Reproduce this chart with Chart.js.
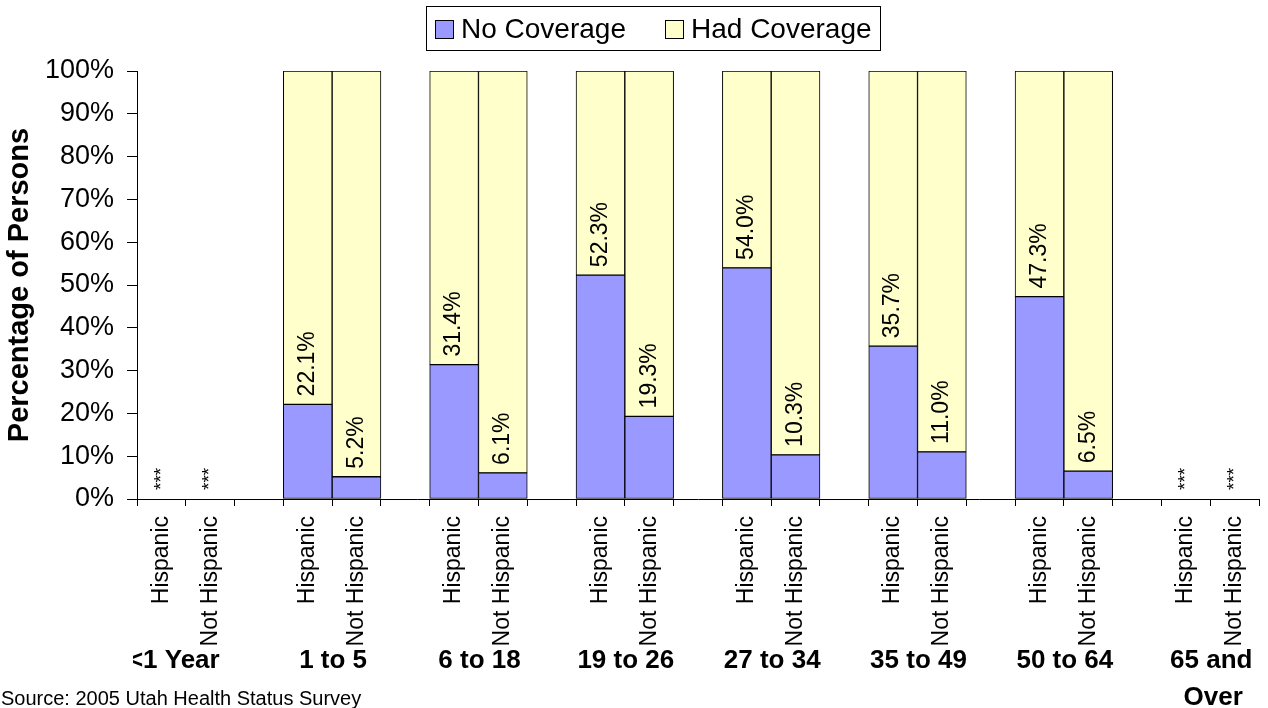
<!DOCTYPE html>
<html>
<head>
<meta charset="utf-8">
<script src="https://cdn.jsdelivr.net/npm/chart.js@4"></script>
<style>
  html, body { margin: 0; padding: 0; background: #fff; }
  #wrap { width: 1268px; height: 708px; position: relative; }
</style>
</head>
<body>
<div id="wrap"><canvas id="c" width="1268" height="708"></canvas></div>
<script>
// ---- data ----
const ageGroups = ['<1 Year', '1 to 5', '6 to 18', '19 to 26', '27 to 34', '35 to 49', '50 to 64', ['65 and', 'Over']];
const ethnicities = ['Hispanic', 'Not Hispanic'];
const noCoverageHispanic    = [null, 22.1, 31.4, 52.3, 54.0, 35.7, 47.3, null];
const noCoverageNotHispanic = [null,  5.2,  6.1, 19.3, 10.3, 11.0,  6.5, null];
const hadCoverageHispanic    = [null, 77.9, 68.6, 47.7, 46.0, 64.3, 52.7, null];
const hadCoverageNotHispanic = [null, 94.8, 93.9, 80.7, 89.7, 89.0, 93.5, null];
const suppressedText = '***';
const seriesNames = ['No Coverage', 'Had Coverage'];
const yTickMax = 100, yTickStep = 10;
const sourceNote = 'Source: 2005 Utah Health Status Survey';

// ---- build slots (Hispanic, Not Hispanic, gap) ----
const slotLabels = [], slotEth = [], slotGroup = [], noCov = [], hadCov = [];
ageGroups.forEach((g, gi) => {
  ethnicities.forEach((e, ei) => {
    slotLabels.push(gi + '|' + e);
    slotEth.push(e);
    slotGroup.push(gi);
    noCov.push(ei === 0 ? noCoverageHispanic[gi] : noCoverageNotHispanic[gi]);
    hadCov.push(ei === 0 ? hadCoverageHispanic[gi] : hadCoverageNotHispanic[gi]);
  });
  if (gi < ageGroups.length - 1) {
    slotLabels.push(gi + '|gap');
    slotEth.push(null);
    slotGroup.push(gi);
    noCov.push(null);
    hadCov.push(null);
  }
});

const FONT = "'Liberation Sans', Arial, sans-serif";
const BLUE = '#9999FF', YELLOW = '#FFFFCC';

const overlay = {
  id: 'overlay',
  afterDatasetsDraw(chart) {
    const ctx = chart.ctx;
    const xs = chart.scales.x, ys = chart.scales.y;
    const meta0 = chart.getDatasetMeta(0);
    const y0 = ys.getPixelForValue(0);
    ctx.save();
    ctx.fillStyle = '#000';
    // value labels & suppressed markers
    slotLabels.forEach((s, i) => {
      if (slotEth[i] === null) return;
      const x = xs.getPixelForValue(i);
      const v = noCov[i];
      ctx.save();
      if (v === null || v === undefined) {
        ctx.translate(x, y0 - 9);
        ctx.rotate(-Math.PI / 2);
        ctx.font = '19px ' + FONT;
        ctx.textAlign = 'left';
        ctx.textBaseline = 'middle';
        ctx.fillText(suppressedText, 0, 0);
      } else {
        const el = meta0.data[i];
        ctx.translate(x, el.y - 8);
        ctx.rotate(-Math.PI / 2);
        ctx.font = '23px ' + FONT;
        ctx.textAlign = 'left';
        ctx.textBaseline = 'middle';
        ctx.fillText(v.toFixed(1) + '%', 0, 0);
      }
      ctx.restore();
    });
    // category labels (rotated)
    slotLabels.forEach((s, i) => {
      if (slotEth[i] === null) return;
      const x = xs.getPixelForValue(i);
      ctx.save();
      ctx.translate(x, ys.bottom + 17);
      ctx.rotate(-Math.PI / 2);
      ctx.font = '23px ' + FONT;
      ctx.textAlign = 'right';
      ctx.textBaseline = 'middle';
      ctx.fillText(slotEth[i], 0, 0);
      ctx.restore();
    });
    // group labels
    ctx.save();
    ctx.beginPath();
    ctx.rect(xs.left - 4, ys.bottom, chart.width, chart.height);
    ctx.clip();
    ctx.font = 'bold 26px ' + FONT;
    ctx.textAlign = 'center';
    ctx.textBaseline = 'middle';
    ageGroups.forEach((g, gi) => {
      const i0 = slotLabels.indexOf(gi + '|Hispanic');
      const i1 = slotLabels.indexOf(gi + '|Not Hispanic');
      let cx = (xs.getPixelForValue(i0) + xs.getPixelForValue(i1)) / 2;
      if (gi === 0) cx -= 13;
      const lines = Array.isArray(g) ? g : [g];
      lines.forEach((ln, li) => ctx.fillText(ln, cx + (li ? 3 : 1), ys.bottom + 162 + li * 37));
    });
    ctx.restore();
    // source
    ctx.font = '20px ' + FONT;
    ctx.textAlign = 'left';
    ctx.textBaseline = 'alphabetic';
    ctx.fillText(sourceNote, 1, 705);
    // legend
    ctx.lineWidth = 1;
    ctx.strokeStyle = '#000';
    ctx.strokeRect(426.5, 6.5, 454, 44);
    ctx.font = '28px ' + FONT;
    ctx.textBaseline = 'middle';
    const items = [[seriesNames[0], BLUE, 435, 461], [seriesNames[1], YELLOW, 665, 691]];
    items.forEach(([t, col, sx, tx]) => {
      ctx.fillStyle = col;
      ctx.fillRect(sx + 0.5, 20.5, 18, 18);
      ctx.strokeRect(sx + 0.5, 20.5, 18, 18);
      ctx.fillStyle = '#000';
      ctx.fillText(t, tx, 30);
    });
    ctx.restore();
  }
};

new Chart(document.getElementById('c'), {
  type: 'bar',
  data: {
    labels: slotLabels,
    datasets: [
      { label: seriesNames[0], data: noCov, backgroundColor: BLUE, borderColor: '#000', borderWidth: 1, borderSkipped: false },
      { label: seriesNames[1], data: hadCov, backgroundColor: YELLOW, borderColor: '#000', borderWidth: 1, borderSkipped: false }
    ]
  },
  options: {
    responsive: false,
    animation: false,
    layout: { padding: { left: 0, right: 9, top: 71, bottom: 0 } },
    plugins: { legend: { display: false }, tooltip: { enabled: false } },
    datasets: { bar: { barPercentage: 1, categoryPercentage: 1 } },
    scales: {
      x: {
        stacked: true,
        offset: true,
        ticks: { display: false },
        grid: { offset: true, drawOnChartArea: false, drawTicks: true, tickLength: 7, color: '#000' },
        border: { display: true, color: '#000', width: 1 },
        afterFit(scale) { scale.height = 209; }
      },
      y: {
        stacked: true,
        min: 0,
        max: yTickMax,
        ticks: {
          stepSize: yTickStep,
          color: '#000',
          padding: 13,
          font: { family: FONT, size: 27 },
          callback: v => v + '%'
        },
        grid: { drawOnChartArea: false, tickLength: 10, color: '#000' },
        border: { display: true, color: '#000', width: 1 },
        title: {
          display: true,
          text: 'Percentage of Persons',
          color: '#000',
          font: { family: FONT, size: 29, weight: 'bold' },
          padding: { top: 3, bottom: 0 }
        },
        afterFit(scale) { scale.width = 137; }
      }
    }
  },
  plugins: [overlay]
});
</script>
</body>
</html>
